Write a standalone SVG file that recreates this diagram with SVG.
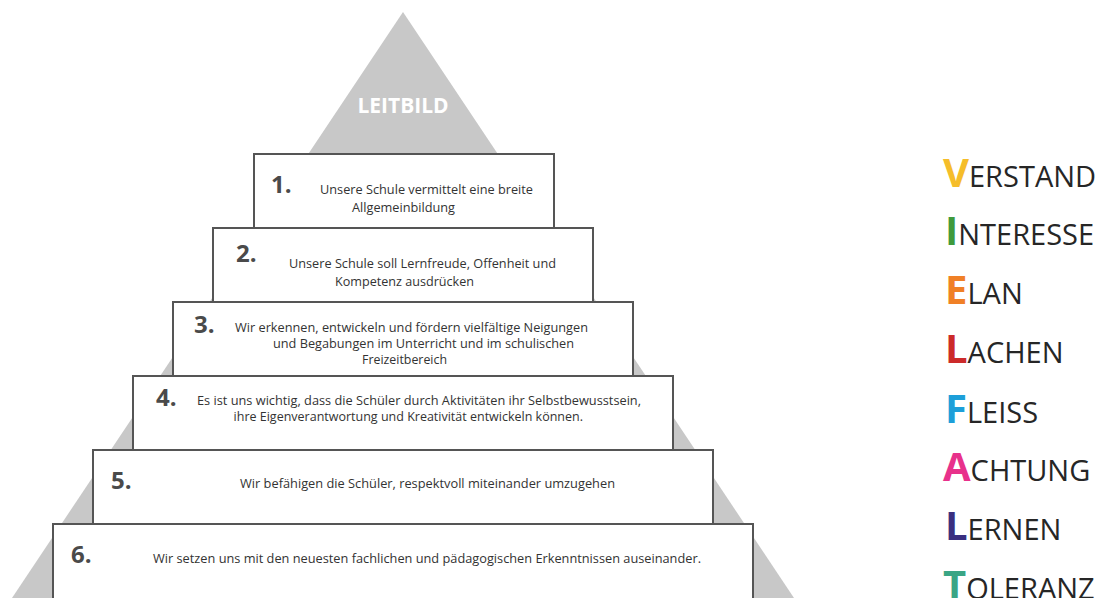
<svg xmlns="http://www.w3.org/2000/svg" width="1105" height="598" viewBox="0 0 1105 598">
<style>
.bg{fill:#ffffff}
.pyr{fill:#c8c8c8}
.box{fill:#ffffff;stroke:#555555;stroke-width:2}
.num{font-family:"Open Sans","Noto Sans",sans-serif;font-weight:700;font-size:24px;fill:#4a4a4a}
.txt{font-family:"Open Sans","Noto Sans",sans-serif;font-size:12.5px;fill:#333333}
.top{font-family:"Open Sans","Noto Sans",sans-serif;font-weight:700;font-size:21px;fill:#ffffff}
.word{font-family:"Open Sans","Noto Sans",sans-serif;font-size:29px;fill:#262626}
.cap{font-weight:700;font-size:40px}
</style>
<rect class="bg" x="0" y="0" width="1105" height="598"/>
<g id="pyramid">
<polygon class="pyr" points="403,12 794,598 12,598"/>
<text class="top" x="403" y="113" text-anchor="middle">LEITBILD</text>
</g>
<g id="step6">
<rect class="box" x="53" y="524" width="700" height="78"/>
<text class="num" x="71" y="563">6.</text>
<text class="txt" x="153" y="563" textLength="548" lengthAdjust="spacingAndGlyphs">Wir setzen uns mit den neuesten fachlichen und pädagogischen Erkenntnissen auseinander.</text>
</g>
<g id="step5">
<rect class="box" x="93" y="450" width="620" height="74"/>
<text class="num" x="111" y="489">5.</text>
<text class="txt" x="240" y="488" textLength="375" lengthAdjust="spacingAndGlyphs">Wir befähigen die Schüler, respektvoll miteinander umzugehen</text>
</g>
<g id="step4">
<rect class="box" x="133" y="376" width="540" height="74"/>
<text class="num" x="156" y="406">4.</text>
<text class="txt" x="197" y="405" textLength="444" lengthAdjust="spacingAndGlyphs">Es ist uns wichtig, dass die Schüler durch Aktivitäten ihr Selbstbewusstsein,</text>
<text class="txt" x="583" y="421" text-anchor="end">ihre Eigenverantwortung und Kreativität entwickeln können.</text>
</g>
<g id="step3">
<rect class="box" x="173" y="302" width="460" height="74"/>
<text class="num" x="194" y="333">3.</text>
<text class="txt" x="235" y="332" textLength="353" lengthAdjust="spacingAndGlyphs">Wir erkennen, entwickeln und fördern vielfältige Neigungen</text>
<text class="txt" x="273" y="348" textLength="301" lengthAdjust="spacingAndGlyphs">und Begabungen im Unterricht und im schulischen</text>
<text class="txt" x="362" y="364" textLength="85" lengthAdjust="spacingAndGlyphs">Freizeitbereich</text>
</g>
<g id="step2">
<rect class="box" x="213" y="228" width="380" height="74"/>
<text class="num" x="236" y="262">2.</text>
<text class="txt" x="289" y="268" textLength="267" lengthAdjust="spacingAndGlyphs">Unsere Schule soll Lernfreude, Offenheit und</text>
<text class="txt" x="335" y="286" textLength="139" lengthAdjust="spacingAndGlyphs">Kompetenz ausdrücken</text>
</g>
<g id="step1">
<rect class="box" x="254" y="154" width="300" height="74"/>
<text class="num" x="271" y="193">1.</text>
<text class="txt" x="320" y="194" textLength="213" lengthAdjust="spacingAndGlyphs">Unsere Schule vermittelt eine breite</text>
<text class="txt" x="352" y="212" textLength="103" lengthAdjust="spacingAndGlyphs">Allgemeinbildung</text>
</g>
<g id="vielfalt">
<text class="word" x="943" y="187"><tspan class="cap" fill="#f5bd2a">V</tspan>ERSTAND</text>
<text class="word" x="945" y="245"><tspan class="cap" fill="#3f9a3c">I</tspan>NTERESSE</text>
<text class="word" x="945" y="304"><tspan class="cap" fill="#f08026">E</tspan>LAN</text>
<text class="word" x="945" y="363"><tspan class="cap" fill="#cc2a2a">L</tspan>ACHEN</text>
<text class="word" x="945" y="423"><tspan class="cap" fill="#1d9fd9">F</tspan>LEISS</text>
<text class="word" x="943" y="481"><tspan class="cap" fill="#e8318b">A</tspan>CHTUNG</text>
<text class="word" x="945" y="540"><tspan class="cap" fill="#3a2f7f">L</tspan>ERNEN</text>
<text class="word" x="943" y="599"><tspan class="cap" fill="#3aa585">T</tspan>OLERANZ</text>
</g>
</svg>
